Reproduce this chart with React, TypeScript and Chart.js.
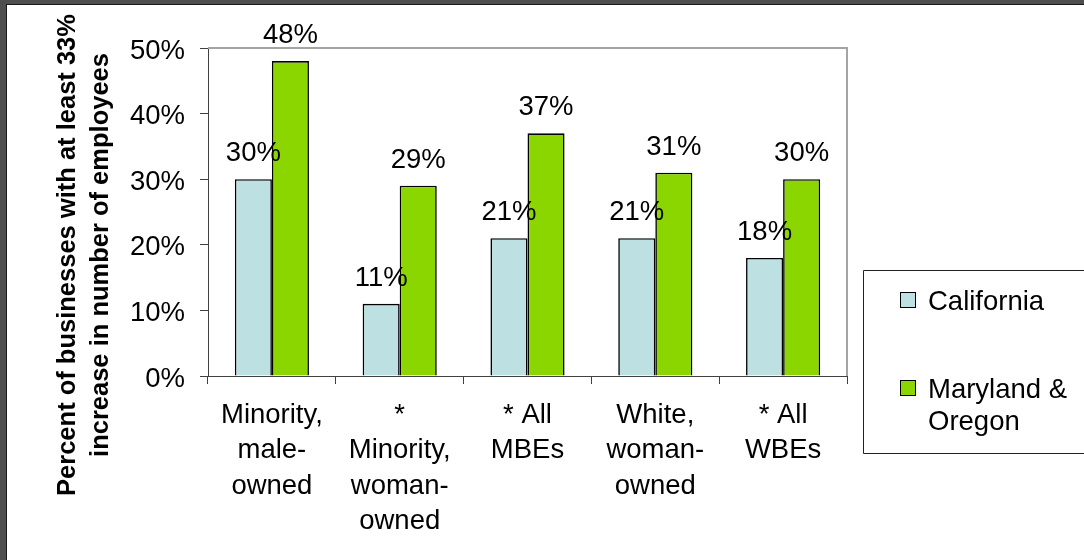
import React, { useEffect, useRef } from 'react';
import { Chart, registerables } from 'chart.js';

Chart.register(...registerables);

// ---------- data ----------
const categories: string[][] = [
  ['Minority,', 'male-', 'owned'],
  ['*', 'Minority,', 'woman-', 'owned'],
  ['* All', 'MBEs'],
  ['White,', 'woman-', 'owned'],
  ['* All', 'WBEs'],
];
const seriesNames = ['California', 'Maryland & Oregon'];
const californiaValues = [30, 11, 21, 21, 18];
const marylandOregonValues = [48, 29, 37, 31, 30];
const seriesColors = ['#BDE1E2', '#8BD500'];
const yAxisTitle = ['Percent of businesses with at least 33%', 'increase in number of employees'];
const yMin = 0;
const yMax = 50;
const yStep = 10;

const FONT = "'Liberation Sans', Arial, Helvetica, sans-serif";
const FS = 27.5;

const CW = 1077;
const CH = 555;

const framePlugin = {
  id: 'plotFrame',
  beforeDatasetsDraw(chart: any) {
    const { ctx, chartArea: a } = chart;
    ctx.save();
    ctx.strokeStyle = '#a4a4a4';
    ctx.lineWidth = 2;
    ctx.beginPath();
    ctx.moveTo(a.left, a.top);
    ctx.lineTo(a.right, a.top);
    ctx.lineTo(a.right, a.bottom);
    ctx.stroke();
    ctx.restore();
  },
};

const dataLabelPlugin = {
  id: 'dataLabels',
  afterDatasetsDraw(chart: any) {
    const { ctx } = chart;
    ctx.save();
    ctx.font = `${FS}px ${FONT}`;
    ctx.fillStyle = '#000';
    ctx.textAlign = 'center';
    ctx.textBaseline = 'alphabetic';
    chart.data.datasets.forEach((ds: any, i: number) => {
      const meta = chart.getDatasetMeta(i);
      meta.data.forEach((bar: any, j: number) => {
        ctx.fillText(`${ds.data[j]}%`, bar.x, bar.y - 18);
      });
    });
    ctx.restore();
  },
};

const titlePlugin = {
  id: 'yTitle',
  afterDraw(chart: any) {
    const { ctx } = chart;
    ctx.save();
    ctx.font = `bold 25.5px ${FONT}`;
    ctx.fillStyle = '#000';
    ctx.textAlign = 'center';
    ctx.textBaseline = 'alphabetic';
    const baselines = [68, 101];
    yAxisTitle.forEach((line, i) => {
      ctx.save();
      ctx.translate(baselines[i], 250);
      ctx.rotate(-Math.PI / 2);
      ctx.fillText(line, 0, 0);
      ctx.restore();
    });
    ctx.restore();
  },
};

function wrap(ctx: CanvasRenderingContext2D, text: string, maxW: number): string[] {
  const words = text.split(' ');
  const lines: string[] = [];
  let cur = '';
  words.forEach((w) => {
    const t = cur ? cur + ' ' + w : w;
    if (ctx.measureText(t).width > maxW && cur) {
      lines.push(cur);
      cur = w;
    } else cur = t;
  });
  if (cur) lines.push(cur);
  return lines;
}

const legendPlugin = {
  id: 'boxLegend',
  afterDraw(chart: any) {
    const { ctx } = chart;
    const boxL = 856;
    const boxT = 265;
    const boxB = 448;
    ctx.save();
    ctx.strokeStyle = '#222';
    ctx.lineWidth = 1;
    ctx.beginPath();
    ctx.moveTo(CW + 2, boxT + 0.5);
    ctx.lineTo(boxL + 0.5, boxT + 0.5);
    ctx.lineTo(boxL + 0.5, boxB + 0.5);
    ctx.lineTo(CW + 2, boxB + 0.5);
    ctx.stroke();

    ctx.font = `${FS}px ${FONT}`;
    ctx.textAlign = 'left';
    ctx.textBaseline = 'alphabetic';
    const firstBaselines = [305, 393];
    chart.data.datasets.forEach((ds: any, i: number) => {
      const base = firstBaselines[i];
      const sx = 893;
      const sy = base - 18;
      ctx.fillStyle = ds.backgroundColor;
      ctx.fillRect(sx, sy, 15, 15);
      ctx.strokeStyle = '#000';
      ctx.lineWidth = 1;
      ctx.strokeRect(sx + 0.5, sy + 0.5, 15, 15);
      ctx.fillStyle = '#000';
      const lines = wrap(ctx, ds.label, 150);
      lines.forEach((ln, k) => ctx.fillText(ln, 921, base + k * 32));
    });
    ctx.restore();
  },
};

export default function App() {
  const ref = useRef<HTMLCanvasElement | null>(null);

  useEffect(() => {
    if (!ref.current) return;
    const chart = new Chart(ref.current, {
      type: 'bar',
      data: {
        labels: categories,
        datasets: [
          {
            label: seriesNames[0],
            data: californiaValues,
            backgroundColor: seriesColors[0],
            borderColor: '#000',
            borderWidth: 1.6,
            categoryPercentage: 0.58,
            barPercentage: 1,
          },
          {
            label: seriesNames[1],
            data: marylandOregonValues,
            backgroundColor: seriesColors[1],
            borderColor: '#000',
            borderWidth: 1.6,
            categoryPercentage: 0.58,
            barPercentage: 1,
          },
        ],
      },
      options: {
        animation: false,
        responsive: false,
        devicePixelRatio: 1,
        layout: { padding: { left: 0, top: 43, right: 237, bottom: 0 } },
        plugins: {
          legend: { display: false },
          tooltip: { enabled: false },
          title: { display: false },
        },
        scales: {
          x: {
            offset: true,
            grid: {
              display: true,
              offset: true,
              drawOnChartArea: false,
              drawTicks: true,
              tickLength: 8,
              color: '#404040',
            },
            border: { display: true, color: '#404040', width: 1 },
            ticks: {
              color: '#000',
              padding: 14,
              maxRotation: 0,
              autoSkip: false,
              font: { family: FONT, size: FS, lineHeight: 1.28 },
            },
            afterFit(scale: any) {
              scale.height = 184;
            },
          },
          y: {
            min: yMin,
            max: yMax,
            grid: {
              display: true,
              drawOnChartArea: false,
              drawTicks: true,
              tickLength: 8,
              color: '#404040',
            },
            border: { display: true, color: '#404040', width: 1 },
            ticks: {
              stepSize: yStep,
              color: '#000',
              padding: 15,
              labelOffset: 3,
              font: { family: FONT, size: FS },
              callback: (v: any) => `${v}%`,
            },
            afterFit(scale: any) {
              scale.width = 201;
            },
          },
        },
      },
      plugins: [framePlugin, dataLabelPlugin, titlePlugin, legendPlugin],
    } as any);
    return () => chart.destroy();
  }, []);

  return (
    <div
      style={{
        position: 'fixed',
        left: 0,
        top: 0,
        width: 1084,
        height: 560,
        background: '#4e4e4e',
        overflow: 'hidden',
      }}
    >
      <div
        style={{
          position: 'absolute',
          left: 6,
          top: 4,
          width: 1078,
          height: 556,
          background: '#fff',
          borderLeft: '1px solid #1a1a1a',
          borderTop: '1px solid #1a1a1a',
        }}
      >
        <canvas ref={ref} width={CW} height={CH} style={{ display: 'block', width: CW, height: CH }} />
      </div>
    </div>
  );
}
